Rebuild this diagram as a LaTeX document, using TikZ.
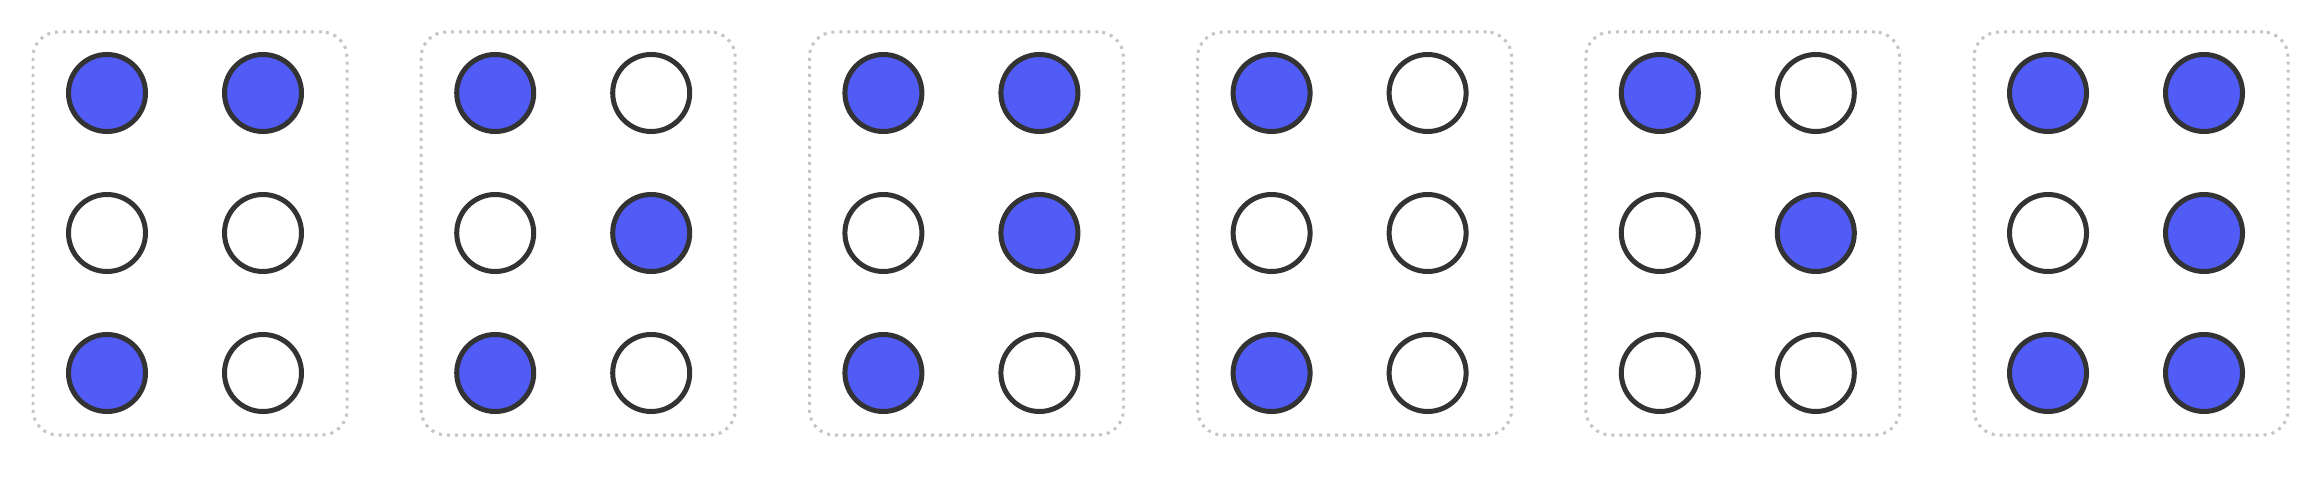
\documentclass[tikz,border=0pt]{standalone}
\usepackage{tikz}
\usetikzlibrary{positioning}
\usetikzlibrary{calc}
\definecolor{dotblue}{HTML}{505CF5}
\definecolor{dotrim}{HTML}{333333}
\definecolor{cellrim}{HTML}{C4C4C4}
\tikzset{
cell/.style={draw=cellrim,line width=0.03cm,dash pattern=on 0.03cm off 0.05cm,rounded corners=0.25cm,minimum width=3.14cm,minimum height=4.03cm,inner sep=0pt},
raised/.style={circle,draw=dotrim,fill=dotblue,line width=0.05cm,minimum size=0.77cm,inner sep=0pt},
flat/.style={circle,draw=dotrim,fill=white,line width=0.05cm,minimum size=0.77cm,inner sep=0pt}
}
\begin{document}
\begin{tikzpicture}
\useasboundingbox (0,0) rectangle (23.22,4.76);

\node[cell](cellA) at (1.90,2.425){};
\node[cell](cellB) at (5.782,2.425){};
\node[cell](cellC) at (9.664,2.425){};
\node[cell](cellD) at (13.546,2.425){};
\node[cell](cellE) at (17.428,2.425){};
\node[cell](cellF) at (21.31,2.425){};

\node[raised](A1) at (1.07,3.83){};
\node[raised](A4) at (2.63,3.83){};
\node[flat](A2) at (1.07,2.43){};
\node[flat](A5) at (2.63,2.43){};
\node[raised](A3) at (1.07,1.03){};
\node[flat](A6) at (2.63,1.03){};

\node[raised](B1) at (4.952,3.83){};
\node[flat](B4) at (6.512,3.83){};
\node[flat](B2) at (4.952,2.43){};
\node[raised](B5) at (6.512,2.43){};
\node[raised](B3) at (4.952,1.03){};
\node[flat](B6) at (6.512,1.03){};

\node[raised](C1) at (8.834,3.83){};
\node[raised](C4) at (10.394,3.83){};
\node[flat](C2) at (8.834,2.43){};
\node[raised](C5) at (10.394,2.43){};
\node[raised](C3) at (8.834,1.03){};
\node[flat](C6) at (10.394,1.03){};

\node[raised](D1) at (12.716,3.83){};
\node[flat](D4) at (14.276,3.83){};
\node[flat](D2) at (12.716,2.43){};
\node[flat](D5) at (14.276,2.43){};
\node[raised](D3) at (12.716,1.03){};
\node[flat](D6) at (14.276,1.03){};

\node[raised](E1) at (16.598,3.83){};
\node[flat](E4) at (18.158,3.83){};
\node[flat](E2) at (16.598,2.43){};
\node[raised](E5) at (18.158,2.43){};
\node[flat](E3) at (16.598,1.03){};
\node[flat](E6) at (18.158,1.03){};

\node[raised](F1) at (20.48,3.83){};
\node[raised](F4) at (22.04,3.83){};
\node[flat](F2) at (20.48,2.43){};
\node[raised](F5) at (22.04,2.43){};
\node[raised](F3) at (20.48,1.03){};
\node[raised](F6) at (22.04,1.03){};
\end{tikzpicture}
\end{document}
